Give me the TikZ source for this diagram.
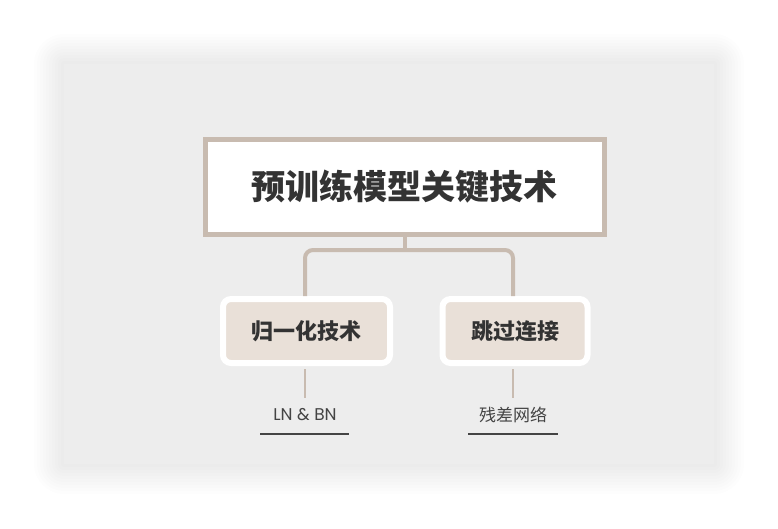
\documentclass[tikz,border=0pt]{standalone}
\usepackage{fontspec}
\setmainfont{Noto Sans CJK SC}
\newfontfamily\latinfont{Poppins}
\definecolor{panelbg}{HTML}{EDEDED}
\definecolor{linec}{HTML}{C8BBB0}
\definecolor{childfill}{HTML}{E9E0D8}
\definecolor{textc}{HTML}{333333}
\definecolor{labelc}{HTML}{444444}
\tikzset{
  rootbox/.style={draw=linec, line width=5pt, fill=white, minimum width=399pt, minimum height=95pt, inner sep=0pt, text=textc, font=\fontsize{34}{40}\selectfont\bfseries},
  childbox/.style={draw=white, line width=6pt, fill=childfill, rounded corners=8pt, inner xsep=28.5pt, inner ysep=0pt, minimum height=64pt, text=textc, font=\fontsize{22}{26}\selectfont\bfseries},
  conn/.style={draw=linec, line width=4pt},
  thin/.style={draw=linec, line width=2pt},
  leaf/.style={inner sep=0pt, text=labelc, font=\fontsize{17}{20}\selectfont},
  uline/.style={draw=labelc, line width=2.5pt}
}
\begin{document}
\begin{tikzpicture}[x=1pt,y=-1pt]
\useasboundingbox (0,0) rectangle (778,528);
\fill[white] (0,0) rectangle (778,528);
% soft shadow
\foreach \d in {30,27,...,3}{
  \fill[black, opacity=0.006, rounded corners=\d pt] (64-\d,64-\d) rectangle (714+\d,464+\d);
}
\fill[panelbg] (64,64) rectangle (714,464);
% root
\node[rootbox] (root) at (404.5,187) {预训练模型关键技术};
% children
\node[childbox] (c1) at (306.5,331) {归一化技术};
\node[childbox] (c2) at (515,331) {跳过连接};
\coordinate (j) at (404.5,250);
\draw[conn] (root.south) -- (j);
\draw[conn, rounded corners=8pt] ([xshift=-1.5pt]c1.north) |- (j) -| ([xshift=-2pt]c2.north);
% leaves
\node[leaf] (l1) at (305,415) {\latinfont LN \& BN};
\node[leaf] (l2) at (513,415) {残差网络};
\draw[thin] ([yshift=-3pt]c1.south -| l1.north) -- ++(0,29);
\draw[thin] ([yshift=-3pt]c2.south -| l2.north) -- ++(0,29);
\coordinate (u1a) at (260,434); \coordinate (u1b) at (349,434);
\coordinate (u2a) at (468,434); \coordinate (u2b) at (558,434);
\draw[uline] (u1a) -- (u1b);
\draw[uline] (u2a) -- (u2b);
\end{tikzpicture}
\end{document}
